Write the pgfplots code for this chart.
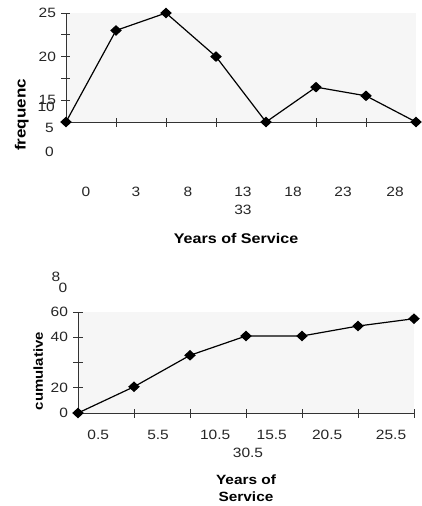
\documentclass[border=0pt]{standalone}
\usepackage{pgfplots}
\pgfplotsset{compat=1.18}
\usepackage{fontspec}
\setmainfont[FakeStretch=1.15]{Liberation Sans}

\definecolor{plotbg}{HTML}{F6F6F6}
\definecolor{axisgray}{HTML}{333333}

\pgfplotsset{
  oldexcel/.style={
    scale only axis,
    axis x line=bottom, axis y line=left,
    axis line style={-, axisgray, line width=0.8pt},
    axis background/.style={fill=plotbg},
    tick align=center, major tick length=9pt,
    tick style={axisgray, line width=0.8pt},
    minor tick num=0,
    clip=false,
    tick label style={font=\fontsize{13.5}{18}\selectfont, text=black!85},
    /pgf/number format/assume math mode=true,
    extra tick style={major tick length=0pt},
  },
  polyline/.style={black, line width=1.2pt, mark=diamond*,
      mark size=4.5pt, mark options={solid, fill=black, xscale=1.45}},
}

\begin{document}
\begin{tikzpicture}
% frequency polygon
\begin{axis}[oldexcel,
  at={(66pt,-122pt)}, anchor=south west,
  width=350pt, height=109pt,
  xmin=0, xmax=7, ymin=12.5, ymax=25,
  xtick={1,...,7}, xticklabels={},
  extra x ticks={0.4,1.4,2.44,3.54,4.54,5.54,6.58},
  extra x tick labels={0,3,8,{13\\33},18,23,28},
  extra x tick style={xticklabel style={align=center, yshift=-62pt}},
  ytick={15,17.5,20,22.5,25}, yticklabels={15,,20,,25},
  yticklabel style={xshift=-2pt},
  xlabel={Years of Service},
  xlabel style={at={(axis description cs:0.486,-1.07)}, anchor=center,
    font=\fontsize{14}{16}\selectfont\bfseries},
  ylabel={frequenc},
  ylabel style={at={(axis description cs:-0.126,0.064)}, anchor=center, rotate=0,
    font=\fontsize{14.8}{16}\selectfont\bfseries},
]
\addplot[polyline] coordinates {(0,12.5) (1,23) (2,25) (3,20) (4,12.5) (5,16.5) (6,15.5) (7,12.5)};
\end{axis}

% cumulative frequency
\begin{axis}[oldexcel,
  at={(78pt,-413pt)}, anchor=south west,
  width=336pt, height=101pt,
  xmin=0, xmax=6, ymin=0, ymax=80,
  xtick={1,...,6}, xticklabels={},
  extra x ticks={0.36,1.43,2.45,3.46,4.45,5.59},
  extra x tick labels={0.5,5.5,10.5,15.5,20.5,25.5},
  extra x tick style={xticklabel style={yshift=-14pt}},
  ytick={0,20,40,60,80}, yticklabels={0,20,,40,60},
  yticklabel style={xshift=-2pt},
  xlabel={Years of\\Service},
  xlabel style={at={(axis description cs:0.5,-0.74)}, anchor=center, align=center,
    font=\fontsize{13.4}{17}\selectfont\bfseries},
  ylabel={cumulative},
  ylabel style={at={(axis description cs:-0.118,0.416)}, anchor=center, rotate=0,
    font=\fontsize{13}{15}\selectfont\bfseries},
]
\addplot[polyline] coordinates {(0,0) (1,20.8) (2,45.7) (3,61) (4,61) (5,68.9) (6,74.7)};
\end{axis}

% stray labels of the original
\begin{scope}[every node/.style={inner sep=0pt, font=\fontsize{13.5}{15}\selectfont, text=black!85}]
\node[anchor=east] at (55pt,-107pt) {10};
\node[anchor=east] at (54pt,-128pt) {5};
\node[anchor=east] at (54pt,-152pt) {0};
\node at (248pt,-453pt) {30.5};
\node at (56pt,-277pt) {8};
\node at (63pt,-288pt) {0};
\end{scope}

\pgfresetboundingbox
\useasboundingbox (0,0) rectangle (421pt,-506pt);
\end{tikzpicture}
\end{document}
